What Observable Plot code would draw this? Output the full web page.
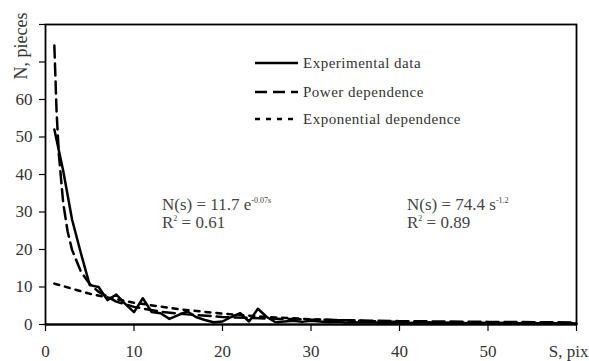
<!DOCTYPE html>
<html>
<head>
<meta charset="utf-8">
<script src="https://cdn.jsdelivr.net/npm/d3@7"></script>
<script src="https://cdn.jsdelivr.net/npm/@observablehq/plot@0.6"></script>
<style>
  html, body { margin: 0; padding: 0; background: #fff; }
  #chart svg { display: block; }
</style>
</head>
<body>
<div id="chart"></div>
<script>
const expS = d3.range(1, 61);
const expN = [52, 41, 28, 19, 10.5, 10, 6.5, 8, 5.5, 3.3,
              7, 3.3, 3, 1.5, 2.5, 3.5, 2, 1.2, 0.6, 0.8,
              2, 3, 0.8, 4.2, 2, 0.6, 0.8, 1, 0.7, 1,
              0.8, 0.6, 0.7, 0.5, 0.6, 0.5, 0.6, 0.4, 0.5, 0.5,
              0.4, 0.5, 0.6, 0.4, 0.5, 0.4, 0.5, 0.3, 0.5, 0.4,
              0.4, 0.5, 0.3, 0.4, 0.5, 0.3, 0.4, 0.3, 0.4, 0.3];

// Power trendline N(s) = 74.4 s^-1.2 (values read/estimated at points)
const powS = [1, 1.25, 1.5, 2, 2.5, 3, 4, 5, 6, 8, 10, 13, 16, 20, 25, 30, 40, 50, 60];
const powN = [74.4, 56.9, 45.7, 32.4, 24.8, 19.9, 14.1, 10.8, 8.7, 6.1, 4.7, 3.4, 2.7, 2.0, 1.6, 1.3, 0.9, 0.7, 0.55];

// Exponential trendline N(s) = 11.7 e^-0.07s
const expoS = [1, 5, 10, 15, 20, 25, 30, 35, 40, 45, 50, 55, 60];
const expoN = [10.9, 8.2, 5.8, 4.1, 2.9, 2.0, 1.4, 1.0, 0.7, 0.5, 0.35, 0.25, 0.18];

const yTicks = [0, 10, 20, 30, 40, 50, 60, 70, 80];
const xTicks = [0, 10, 20, 30, 40, 50, 60];

const legendItems = ["Experimental data", "Power dependence", "Exponential dependence"];
const annotations = [
  {main: "N(s) = 11.7 e", sup: "-0.07s", r2: " = 0.61"},
  {main: "N(s) = 74.4 s", sup: "-1.2", r2: " = 0.89"}
];

const dataExp = expS.map((s, i) => ({s, n: expN[i]}));
const dataPow = powS.map((s, i) => ({s, n: powN[i]}));
const dataExpo = expoS.map((s, i) => ({s, n: expoN[i]}));

const font = "'Liberation Serif', 'DejaVu Serif', serif";
const textColor = "#333";

const chart = Plot.plot({
  width: 589,
  height: 361,
  marginLeft: 45,
  marginRight: 13,
  marginTop: 24,
  marginBottom: 37,
  style: {fontFamily: font, fontSize: "17px", color: textColor, background: "#fff"},
  x: {domain: [0, 60]},
  y: {domain: [0, 80]},
  marks: [
    Plot.axisY({ticks: yTicks, tickSize: 6, tickPadding: 7, label: null,
      tickFormat: d => d <= 60 ? String(d) : "", fill: textColor, stroke: "#000", strokeWidth: 1.2}),
    Plot.axisX({ticks: xTicks, tickSize: 7, tickPadding: 13, label: null,
      tickFormat: d => d < 60 ? String(d) : "", fill: textColor, stroke: "#000", strokeWidth: 1.2}),
    Plot.text(["S, pix"], {x: () => 60, y: () => 0, dy: 27, dx: 12, textAnchor: "end",
      fill: textColor, fontSize: 17}),
    Plot.line(dataExpo, {x: "s", y: "n", stroke: "#000", strokeWidth: 2.5, strokeDasharray: "5,6"}),
    Plot.line(dataPow, {x: "s", y: "n", stroke: "#000", strokeWidth: 2.5, strokeDasharray: "12,6"}),
    Plot.line(dataExp, {x: "s", y: "n", stroke: "#000", strokeWidth: 2.5}),
    Plot.ruleY([0], {stroke: "#000", strokeWidth: 2}),
    Plot.frame({stroke: "#000", strokeWidth: 1.8})
  ]
});

document.getElementById("chart").appendChild(chart);

const svg = d3.select(chart);

// Y axis title
svg.append("text")
  .attr("transform", "translate(27,46) rotate(-90)")
  .attr("text-anchor", "middle")
  .attr("font-family", font)
  .attr("font-size", 18)
  .attr("fill", textColor)
  .text("N, pieces");

// Legend
const dashes = [null, "12,6", "5,6"];
const legend = svg.append("g").attr("text-anchor", "start");
legendItems.forEach((label, i) => {
  const y = [63, 92, 119][i];
  legend.append("line")
    .attr("x1", 255).attr("x2", 298).attr("y1", y).attr("y2", y)
    .attr("stroke", "#000").attr("stroke-width", 2.5)
    .attr("stroke-dasharray", dashes[i]);
  legend.append("text")
    .attr("x", 303).attr("y", y + 5)
    .attr("text-anchor", "start")
    .attr("font-family", font).attr("font-size", 15)
    .attr("letter-spacing", 0.5)
    .attr("fill", textColor)
    .text(label);
});

// Annotations
const annPos = [{x: 162, y: 210}, {x: 407, y: 210}];
annotations.forEach((a, i) => {
  const p = annPos[i];
  const t = svg.append("text")
    .attr("x", p.x).attr("y", p.y)
    .attr("text-anchor", "start")
    .attr("font-family", font).attr("font-size", 17)
    .attr("fill", "#444");
  t.append("tspan").text(a.main);
  t.append("tspan").attr("dy", -7).attr("font-size", 8).text(a.sup);
  const r = svg.append("text")
    .attr("x", p.x).attr("y", p.y + 18)
    .attr("text-anchor", "start")
    .attr("font-family", font).attr("font-size", 17)
    .attr("fill", "#444");
  r.append("tspan").text("R");
  r.append("tspan").attr("dy", -7).attr("font-size", 8).text("2");
  r.append("tspan").attr("dy", 7).text(a.r2);
});
</script>
</body>
</html>
